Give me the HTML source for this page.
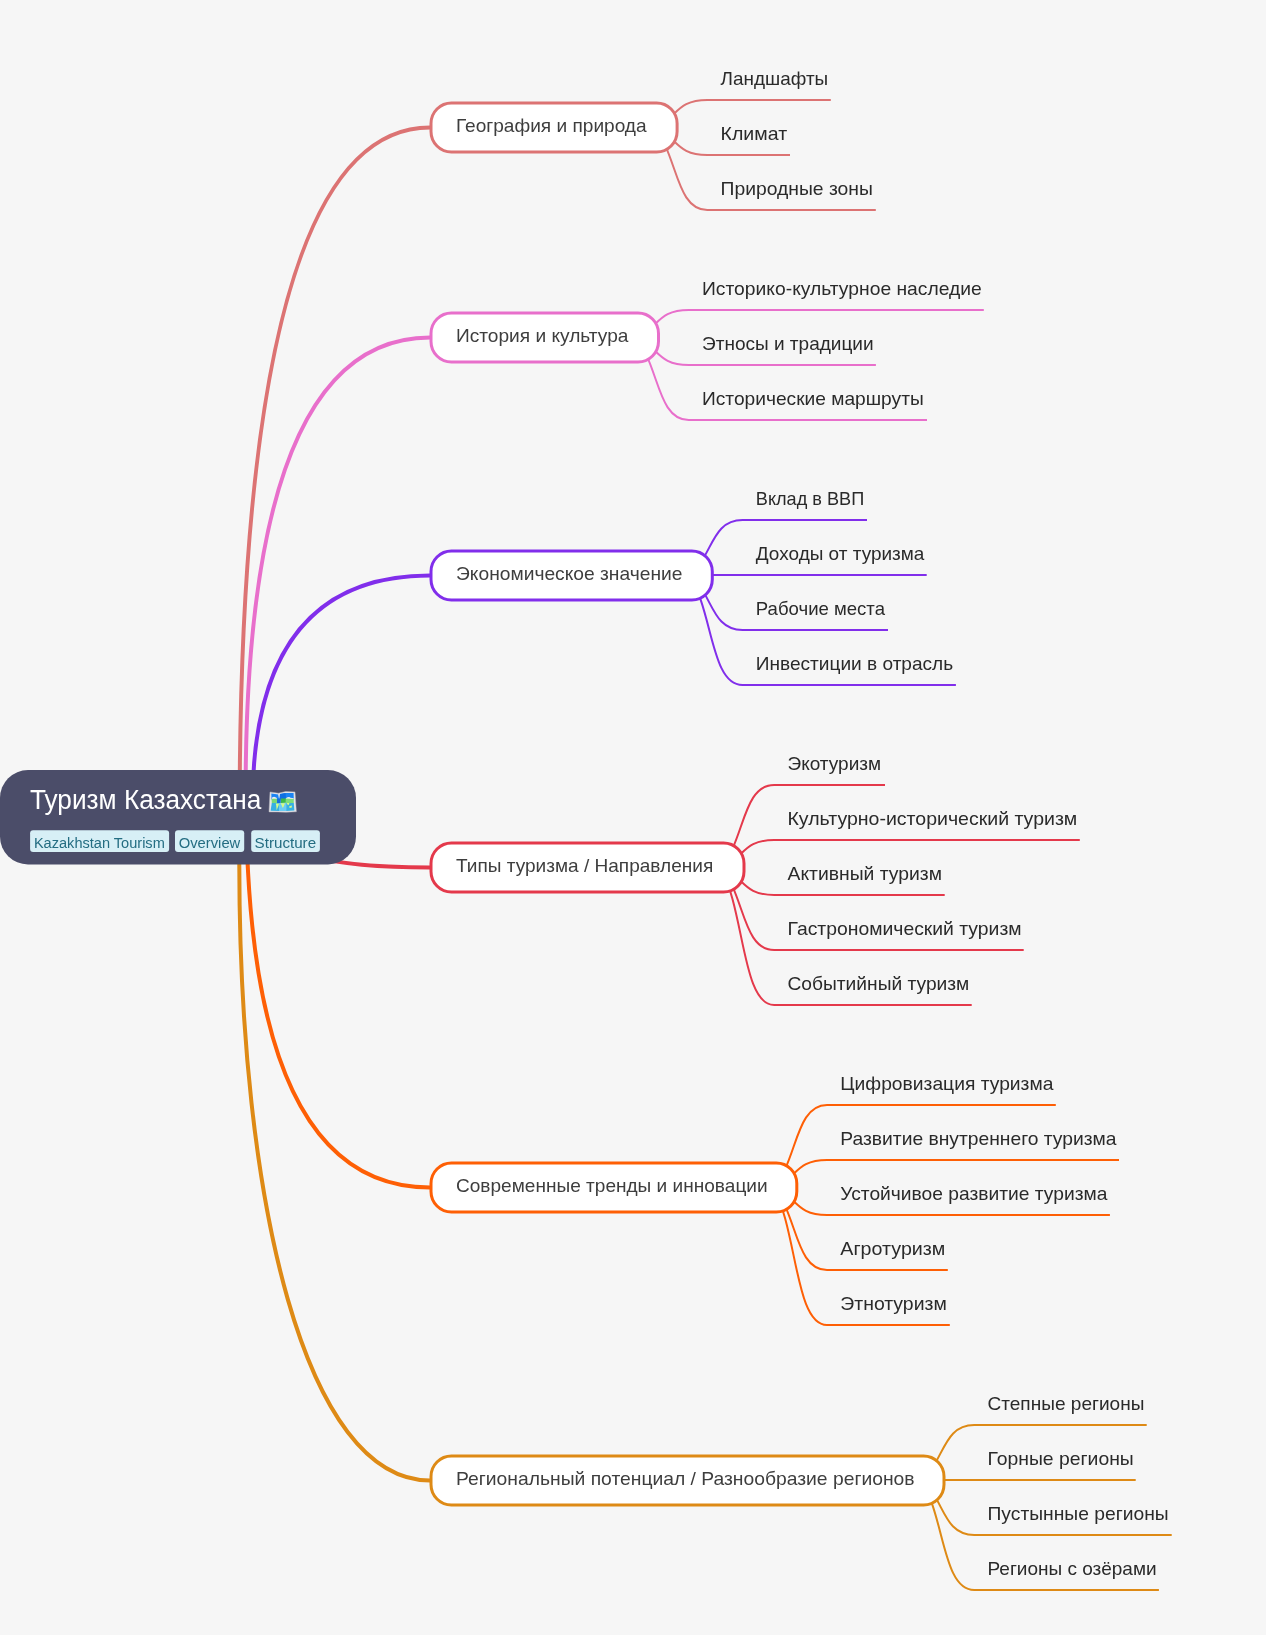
<!DOCTYPE html><html><head><meta charset="utf-8"><style>html,body{margin:0;padding:0;background:#f6f6f6;overflow:hidden;}svg{display:block;will-change:transform;}text{font-family:"Liberation Sans",sans-serif;}</style></head><body>
<svg width="1266" height="1635" viewBox="0 0 1266 1635">
<rect x="0" y="0" width="1266" height="1635" fill="#f6f6f6"/>
<path d="M239.6,816 Q239.6,127.5 430,127.5" fill="none" stroke="#dc7373" stroke-width="4"/>
<path d="M245.6,794 Q245.6,337.5 430,337.5" fill="none" stroke="#e86fcb" stroke-width="4"/>
<path d="M252.5,804.5 Q252.5,575.5 430,575.5" fill="none" stroke="#812eeb" stroke-width="4"/>
<path d="M252,807 Q252,867.5 430,867.5" fill="none" stroke="#e4394b" stroke-width="4"/>
<path d="M246.1,795.6 Q246.1,1187.5 430,1187.5" fill="none" stroke="#fe5f05" stroke-width="4"/>
<path d="M239.3,800 L239.3,864 C239.3,1202.2 304.9,1480.5 430,1480.5" fill="none" stroke="#de8a15" stroke-width="4"/>
<path d="M653.6,127.5 C677.77,118.97 675.08,100 707.3,100 L830.8,100" fill="none" stroke="#dc7373" stroke-width="2"/>
<path d="M653.6,127.5 C677.77,136.03 675.08,155 707.3,155 L790,155" fill="none" stroke="#dc7373" stroke-width="2"/>
<path d="M653.6,127.5 C677.77,153.07 675.08,210 707.3,210 L875.8,210" fill="none" stroke="#dc7373" stroke-width="2"/>
<path d="M635,337.5 C659.16,328.98 656.48,310 688.7,310 L983.8,310" fill="none" stroke="#e86fcb" stroke-width="2"/>
<path d="M635,337.5 C659.16,346.02 656.48,365 688.7,365 L875.9,365" fill="none" stroke="#e86fcb" stroke-width="2"/>
<path d="M635,337.5 C659.16,363.07 656.48,420 688.7,420 L927,420" fill="none" stroke="#e86fcb" stroke-width="2"/>
<path d="M688.8,575 C712.96,557.95 710.28,520 742.5,520 L867,520" fill="none" stroke="#812eeb" stroke-width="2"/>
<path d="M688.8,575 C712.96,575 710.28,575 742.5,575 L926.7,575" fill="none" stroke="#812eeb" stroke-width="2"/>
<path d="M688.8,575 C712.96,592.05 710.28,630 742.5,630 L888,630" fill="none" stroke="#812eeb" stroke-width="2"/>
<path d="M688.8,575 C712.96,609.1 710.28,685 742.5,685 L955.9,685" fill="none" stroke="#812eeb" stroke-width="2"/>
<path d="M720.5,867.5 C744.66,841.92 741.98,785 774.2,785 L885,785" fill="none" stroke="#e4394b" stroke-width="2"/>
<path d="M720.5,867.5 C744.66,858.98 741.98,840 774.2,840 L1079.8,840" fill="none" stroke="#e4394b" stroke-width="2"/>
<path d="M720.5,867.5 C744.66,876.02 741.98,895 774.2,895 L944.7,895" fill="none" stroke="#e4394b" stroke-width="2"/>
<path d="M720.5,867.5 C744.66,893.08 741.98,950 774.2,950 L1023.7,950" fill="none" stroke="#e4394b" stroke-width="2"/>
<path d="M720.5,867.5 C744.66,910.12 741.98,1005 774.2,1005 L971.7,1005" fill="none" stroke="#e4394b" stroke-width="2"/>
<path d="M773.3,1187.5 C797.46,1161.92 794.78,1105 827,1105 L1055.8,1105" fill="none" stroke="#fe5f05" stroke-width="2"/>
<path d="M773.3,1187.5 C797.46,1178.97 794.78,1160 827,1160 L1119,1160" fill="none" stroke="#fe5f05" stroke-width="2"/>
<path d="M773.3,1187.5 C797.46,1196.03 794.78,1215 827,1215 L1109.9,1215" fill="none" stroke="#fe5f05" stroke-width="2"/>
<path d="M773.3,1187.5 C797.46,1213.08 794.78,1270 827,1270 L947.8,1270" fill="none" stroke="#fe5f05" stroke-width="2"/>
<path d="M773.3,1187.5 C797.46,1230.12 794.78,1325 827,1325 L949.8,1325" fill="none" stroke="#fe5f05" stroke-width="2"/>
<path d="M920.5,1480 C944.66,1462.95 941.98,1425 974.2,1425 L1146.7,1425" fill="none" stroke="#de8a15" stroke-width="2"/>
<path d="M920.5,1480 C944.66,1480 941.98,1480 974.2,1480 L1135.7,1480" fill="none" stroke="#de8a15" stroke-width="2"/>
<path d="M920.5,1480 C944.66,1497.05 941.98,1535 974.2,1535 L1171.7,1535" fill="none" stroke="#de8a15" stroke-width="2"/>
<path d="M920.5,1480 C944.66,1514.1 941.98,1590 974.2,1590 L1158.9,1590" fill="none" stroke="#de8a15" stroke-width="2"/>
<rect x="431" y="103" width="246.1" height="49" rx="20.5" fill="#ffffff" stroke="#dc7373" stroke-width="3"/>
<text x="456" y="131.9" font-size="19" fill="#3e3e3e" textLength="190.6" lengthAdjust="spacingAndGlyphs">География и природа</text>
<rect x="431" y="313" width="227.5" height="49" rx="20.5" fill="#ffffff" stroke="#e86fcb" stroke-width="3"/>
<text x="456" y="341.9" font-size="19" fill="#3e3e3e" textLength="172.4" lengthAdjust="spacingAndGlyphs">История и культура</text>
<rect x="431" y="551" width="281.3" height="49" rx="20.5" fill="#ffffff" stroke="#812eeb" stroke-width="3"/>
<text x="456" y="579.9" font-size="19" fill="#3e3e3e" textLength="226.5" lengthAdjust="spacingAndGlyphs">Экономическое значение</text>
<rect x="431" y="843" width="313" height="49" rx="20.5" fill="#ffffff" stroke="#e4394b" stroke-width="3"/>
<text x="456" y="871.9" font-size="19" fill="#3e3e3e" textLength="257.2" lengthAdjust="spacingAndGlyphs">Типы туризма / Направления</text>
<rect x="431" y="1163" width="365.8" height="49" rx="20.5" fill="#ffffff" stroke="#fe5f05" stroke-width="3"/>
<text x="456" y="1191.9" font-size="19" fill="#3e3e3e" textLength="311.6" lengthAdjust="spacingAndGlyphs">Современные тренды и инновации</text>
<rect x="431" y="1456" width="513" height="49" rx="20.5" fill="#ffffff" stroke="#de8a15" stroke-width="3"/>
<text x="456" y="1484.9" font-size="19" fill="#3e3e3e" textLength="458.6" lengthAdjust="spacingAndGlyphs">Региональный потенциал / Разнообразие регионов</text>
<text x="720.6" y="85" font-size="19" fill="#2a2a2a" textLength="107.6" lengthAdjust="spacingAndGlyphs">Ландшафты</text>
<text x="720.6" y="140" font-size="19" fill="#2a2a2a" textLength="66.5" lengthAdjust="spacingAndGlyphs">Климат</text>
<text x="720.6" y="195" font-size="19" fill="#2a2a2a" textLength="152.3" lengthAdjust="spacingAndGlyphs">Природные зоны</text>
<text x="702" y="295" font-size="19" fill="#2a2a2a" textLength="279.8" lengthAdjust="spacingAndGlyphs">Историко-культурное наследие</text>
<text x="702" y="350" font-size="19" fill="#2a2a2a" textLength="171.6" lengthAdjust="spacingAndGlyphs">Этносы и традиции</text>
<text x="702" y="405" font-size="19" fill="#2a2a2a" textLength="221.7" lengthAdjust="spacingAndGlyphs">Исторические маршруты</text>
<text x="755.8" y="505" font-size="19" fill="#2a2a2a" textLength="108.4" lengthAdjust="spacingAndGlyphs">Вклад в ВВП</text>
<text x="755.8" y="560" font-size="19" fill="#2a2a2a" textLength="168.6" lengthAdjust="spacingAndGlyphs">Доходы от туризма</text>
<text x="755.8" y="615" font-size="19" fill="#2a2a2a" textLength="129.2" lengthAdjust="spacingAndGlyphs">Рабочие места</text>
<text x="755.8" y="670" font-size="19" fill="#2a2a2a" textLength="197.4" lengthAdjust="spacingAndGlyphs">Инвестиции в отрасль</text>
<text x="787.5" y="770" font-size="19" fill="#2a2a2a" textLength="93.6" lengthAdjust="spacingAndGlyphs">Экотуризм</text>
<text x="787.5" y="825" font-size="19" fill="#2a2a2a" textLength="289.8" lengthAdjust="spacingAndGlyphs">Культурно-исторический туризм</text>
<text x="787.5" y="880" font-size="19" fill="#2a2a2a" textLength="154.5" lengthAdjust="spacingAndGlyphs">Активный туризм</text>
<text x="787.5" y="935" font-size="19" fill="#2a2a2a" textLength="234.1" lengthAdjust="spacingAndGlyphs">Гастрономический туризм</text>
<text x="787.5" y="990" font-size="19" fill="#2a2a2a" textLength="181.8" lengthAdjust="spacingAndGlyphs">Событийный туризм</text>
<text x="840.3" y="1090" font-size="19" fill="#2a2a2a" textLength="213.1" lengthAdjust="spacingAndGlyphs">Цифровизация туризма</text>
<text x="840.3" y="1145" font-size="19" fill="#2a2a2a" textLength="276.2" lengthAdjust="spacingAndGlyphs">Развитие внутреннего туризма</text>
<text x="840.3" y="1200" font-size="19" fill="#2a2a2a" textLength="267.1" lengthAdjust="spacingAndGlyphs">Устойчивое развитие туризма</text>
<text x="840.3" y="1255" font-size="19" fill="#2a2a2a" textLength="105.1" lengthAdjust="spacingAndGlyphs">Агротуризм</text>
<text x="840.3" y="1310" font-size="19" fill="#2a2a2a" textLength="106.5" lengthAdjust="spacingAndGlyphs">Этнотуризм</text>
<text x="987.5" y="1410" font-size="19" fill="#2a2a2a" textLength="156.9" lengthAdjust="spacingAndGlyphs">Степные регионы</text>
<text x="987.5" y="1465" font-size="19" fill="#2a2a2a" textLength="146.3" lengthAdjust="spacingAndGlyphs">Горные регионы</text>
<text x="987.5" y="1520" font-size="19" fill="#2a2a2a" textLength="181.2" lengthAdjust="spacingAndGlyphs">Пустынные регионы</text>
<text x="987.5" y="1575" font-size="19" fill="#2a2a2a" textLength="169.1" lengthAdjust="spacingAndGlyphs">Регионы с озёрами</text>
<rect x="0" y="770" width="356" height="94.5" rx="28" fill="#4b4d69"/>
<text x="30" y="808.9" font-size="27" fill="#ffffff" textLength="231.3" lengthAdjust="spacingAndGlyphs">Туризм Казахстана</text>
<g transform="translate(264,786)">
<path d="M6,6 L14.4,7.2 L21.6,5.6 L31,5.9 L32.4,25.7 L22,26.2 L14,25.9 L5,25.9 Z" fill="#e6e6ea" stroke="#b4b4bc" stroke-width="0.5"/>
<path d="M7.3,7.4 L14.4,8.4 L21.6,6.9 L29.6,7.1 L29.8,13.5 L7.5,13.5 Z" fill="#1c84f3"/>
<path d="M15.6,8 L21.6,6.9 L22,13 L15.4,13 Z" fill="#0f6fe2"/>
<path d="M14,8.3 L16,8.1 L15.2,13.2 Z" fill="#e8eaee"/>
<path d="M8,11.4 L10,10.8 L12.2,11.5 L13.2,12.9 L8,13 Z M21.8,12.2 L23.5,11.2 L25.2,10.9 L26.5,11.8 L29.7,12.3 L29.7,13.2 L21.8,13.2 Z" fill="#ecedf0"/>
<path d="M7.6,12.8 L13.2,12.8 L14,14.5 L13,17.2 L7.8,17.2 Z" fill="#78d878"/>
<path d="M21.6,12.6 L29.7,12.9 L29.8,17.2 L21.6,17.3 Z" fill="#7cde7c"/>
<path d="M16.8,12.4 L21.8,12.6 L21.8,16.8 L16.6,17 Z" fill="#3cb94a"/>
<path d="M13,12.8 L16.9,12.4 L16.6,17.2 L13,17.2 Z" fill="#156fe0"/>
<path d="M7.8,17 L15,17 L15,24.9 L6.6,24.8 Z" fill="#36b0e2"/>
<path d="M15,17 L22.2,17 L22.2,25 L15,24.9 Z" fill="#6ccdf5"/>
<path d="M22.2,17 L29.8,17 L30.4,24.6 L22.2,25 Z" fill="#38b2e3"/>
<path d="M11.8,17.4 L15,17.6 L14.6,19.5 L13.3,22.5 L12.6,24.2 L12.3,20 Z M16.4,17.3 L21,17.2 L20.2,19.2 L19.2,21.6 L18.4,21.4 L17.6,19 Z M22.6,17 L25.4,17 L25,18.4 L24,19.2 Z M25.2,20.2 L27.9,19.6 L27.8,21.6 L25.6,22 Z" fill="#d6fb88"/>
</g>
<rect x="30.1" y="830.2" width="139" height="21.9" rx="3" fill="#d7eff6"/>
<text x="33.9" y="848" font-size="15.5" fill="#246d82" textLength="130.9" lengthAdjust="spacingAndGlyphs">Kazakhstan Tourism</text>
<rect x="175" y="830.2" width="69.2" height="21.9" rx="3" fill="#d7eff6"/>
<text x="178.7" y="848" font-size="15.5" fill="#246d82" textLength="61.6" lengthAdjust="spacingAndGlyphs">Overview</text>
<rect x="251.2" y="830.2" width="68.7" height="21.9" rx="3" fill="#d7eff6"/>
<text x="254.6" y="848" font-size="15.5" fill="#246d82" textLength="61.5" lengthAdjust="spacingAndGlyphs">Structure</text>
</svg></body></html>
